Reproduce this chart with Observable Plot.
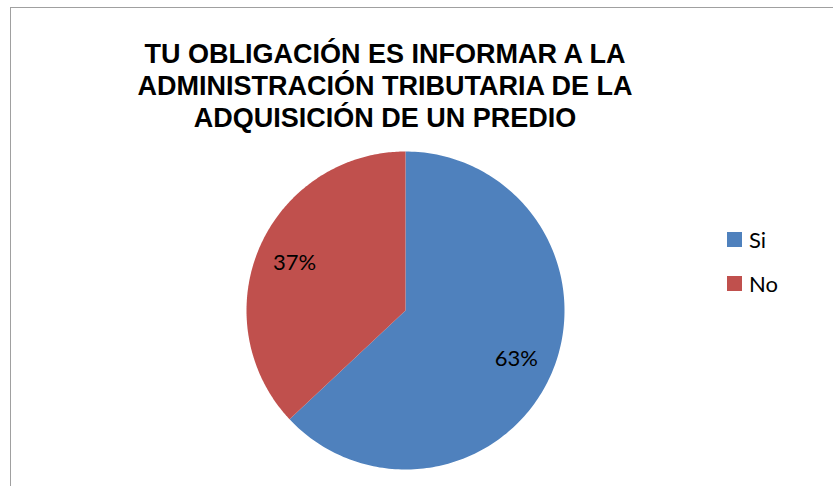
<!DOCTYPE html>
<html>
<head>
<meta charset="utf-8">
<script src="https://cdn.jsdelivr.net/npm/d3@7"></script>
<script src="https://cdn.jsdelivr.net/npm/@observablehq/plot@0.6"></script>
<style>
  html, body { margin: 0; padding: 0; background: #fff; }
  #wrap { position: relative; width: 833px; height: 486px; overflow: hidden; }
  #frame { position: absolute; left: 10px; top: 7px; width: 900px; height: 600px; border: 1.5px solid #a0a0a0; box-sizing: border-box; }
  #title { position: absolute; left: 0; width: 770px; top: 38px; text-align: center;
           font-family: "Liberation Sans", Arial, sans-serif; font-weight: bold; font-size: 27px; line-height: 32px; color: #000; }
  #legend { position: absolute; left: 727px; top: 224px; font-family: Lato, "Noto Sans", sans-serif; font-size: 22px; color: #000; }
  .item { display: flex; align-items: center; height: 30px; margin-bottom: 14px; }
  .sw { width: 15px; height: 15px; margin-right: 7px; }
  #chart { position: absolute; left: 0; top: 0; }
</style>
</head>
<body>
<div id="wrap">
  <div id="frame"></div>
  <div id="chart"></div>
  <div id="title">TU OBLIGACIÓN ES INFORMAR A LA<br>ADMINISTRACIÓN TRIBUTARIA DE LA<br>ADQUISICIÓN DE UN PREDIO</div>
  <div id="legend"></div>
</div>
<script>
const categories = ["Si", "No"];
const values = [63, 37];
const labels = ["63%", "37%"];
const colors = ["#4F81BD", "#C0504D"];

const total = d3.sum(values);
// angles clockwise from 12 o'clock
let acc = 0;
const slices = categories.map((c, i) => {
  const a0 = acc / total * 2 * Math.PI;
  acc += values[i];
  const a1 = acc / total * 2 * Math.PI;
  return {category: c, a0, a1, label: labels[i]};
});
const pts = [];
for (const s of slices) {
  pts.push({category: s.category, x: 0, y: 0});
  const n = 200;
  for (let k = 0; k <= n; k++) {
    const a = s.a0 + (s.a1 - s.a0) * k / n;
    pts.push({category: s.category, x: Math.sin(a), y: Math.cos(a)});
  }
  pts.push({category: s.category, x: 0, y: 0});
}
const lab = slices.map(s => {
  const m = (s.a0 + s.a1) / 2;
  return {label: s.label, x: 0.76 * Math.sin(m), y: 0.76 * Math.cos(m)};
});

const plot = Plot.plot({
  width: 833,
  height: 486,
  marginLeft: 246,
  marginRight: 269,
  marginTop: 151,
  marginBottom: 17,
  x: {domain: [-1, 1], axis: null},
  y: {domain: [-1, 1], axis: null},
  color: {domain: categories, range: colors},
  style: {background: "transparent", overflow: "visible"},
  marks: [
    Plot.line(pts, {x: "x", y: "y", z: "category", fill: "category", stroke: "none", curve: "linear"}),
    Plot.text(lab, {x: "x", y: "y", text: "label", fontSize: 22, fill: "#000",
      fontFamily: "Lato, 'Noto Sans', sans-serif"})
  ]
});
document.getElementById("chart").appendChild(plot);

const leg = document.getElementById("legend");
categories.forEach((c, i) => {
  const d = document.createElement("div");
  d.className = "item";
  d.innerHTML = `<div class="sw" style="background:${colors[i]}"></div><span>${c}</span>`;
  leg.appendChild(d);
});
</script>
</body>
</html>
